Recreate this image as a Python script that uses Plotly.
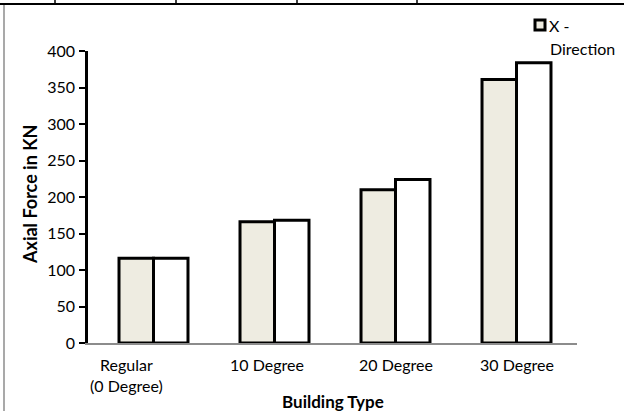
import plotly.graph_objects as go

# Axial force per building type, two load cases
categories = ["Regular<br>(0 Degree)", "10 Degree", "20 Degree", "30 Degree"]
series_names = ["Y - Direction", "X -<br>Direction"]
force_y = [116, 166, 210, 361]
force_x = [116, 168, 224, 384]
y_ticks = [0, 50, 100, 150, 200, 250, 300, 350, 400]

W, H = 624, 411
ML, MR, MT, MB = 88, 47, 51, 68
PW, PH = W - ML - MR, H - MT - MB

FONT = "Lato, 'Open Sans', sans-serif"
FS = 16
FILL_Y = "#EEECE1"
FILL_X = "white"


def px_x(x):
    return (x - ML) / PW


def px_y(y):
    return (H - MB - y) / PH


fig = go.Figure()
fig.add_trace(go.Bar(
    x=categories, y=force_y, name=series_names[0], showlegend=False,
    marker=dict(color=FILL_Y, line=dict(color="black", width=3)),
))
fig.add_trace(go.Bar(
    x=categories, y=force_x, name=series_names[1], showlegend=False,
    marker=dict(color=FILL_X, line=dict(color="black", width=3)),
))

# category labels sit slightly left of the group centres
label_shift = [-27, -8, 0, 0]
annotations = []
for cat, dx in zip(categories, label_shift):
    annotations.append(dict(
        x=cat, y=0, xref="x", yref="paper", yanchor="top", xanchor="center",
        yshift=-10, xshift=dx, text=cat, showarrow=False, align="center",
        font=dict(family=FONT, size=FS, color="black"),
    ))

# axis titles
annotations.append(dict(
    x=px_x(333), y=px_y(401), xref="paper", yref="paper", xanchor="center",
    yanchor="middle", text="<b>Building Type</b>", showarrow=False,
    font=dict(family=FONT, size=17, color="black"),
))
annotations.append(dict(
    x=px_x(30), y=px_y(195), xref="paper", yref="paper", xanchor="center",
    yanchor="middle", text="<b>Axial Force in KN</b>", showarrow=False, textangle=-90,
    font=dict(family=FONT, size=18, color="black"),
))

# compact legend entry: swatch + wrapped series name, one line per annotation
legend_lines = series_names[1].split("<br>")
for line_text, lx, ly in zip(legend_lines, [547, 548], [25, 48]):
    annotations.append(dict(
        x=px_x(lx), y=px_y(ly), xref="paper", yref="paper", xanchor="left",
        yanchor="middle", text=line_text, showarrow=False,
        font=dict(family=FONT, size=FS, color="black"),
    ))

shapes = [
    dict(type="rect", xref="paper", yref="paper", x0=px_x(535), x1=px_x(545),
         y0=px_y(20), y1=px_y(30), fillcolor=FILL_Y, line=dict(color="black", width=3)),
    # page frame around the chart
    dict(type="line", xref="paper", yref="paper", x0=px_x(0), x1=px_x(W),
         y0=px_y(4), y1=px_y(4), line=dict(color="black", width=2)),
    dict(type="line", xref="paper", yref="paper", x0=px_x(4), x1=px_x(4),
         y0=px_y(5), y1=px_y(H), line=dict(color="#8c8c8c", width=1.5)),
]
for vx in [55, 176, 297, 417]:
    shapes.append(dict(type="line", xref="paper", yref="paper", x0=px_x(vx), x1=px_x(vx),
                       y0=px_y(0), y1=px_y(4), line=dict(color="black", width=1.5)))

fig.update_layout(
    width=W, height=H,
    margin=dict(l=ML, r=MR, t=MT, b=MB, autoexpand=False),
    paper_bgcolor="white", plot_bgcolor="white",
    barmode="group", bargap=0.43, bargroupgap=0,
    font=dict(family=FONT, size=FS, color="black"),
    showlegend=False,
    xaxis=dict(showticklabels=False, showline=True, linecolor="#8c8c8c", linewidth=1.5,
               ticks="", showgrid=False, zeroline=False, automargin=False),
    yaxis=dict(range=[0, 400], tickvals=y_ticks, showline=True, linecolor="black",
               linewidth=2.5, ticks="outside", ticklen=6, tickwidth=2, tickcolor="black",
               showgrid=False, zeroline=False, automargin=False, ticklabelstandoff=1,
               tickfont=dict(family=FONT, size=FS, color="black")),
    annotations=annotations,
    shapes=shapes,
)

fig.write_html("out.html")
